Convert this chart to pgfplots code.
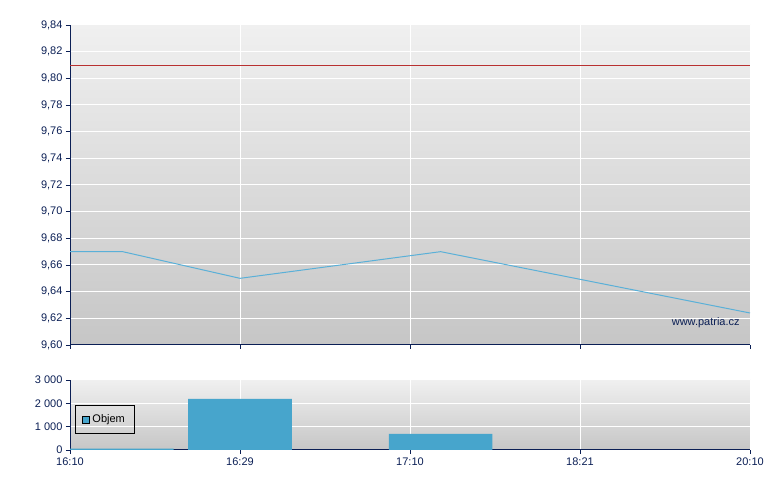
\documentclass[border=0pt]{standalone}
\usepackage{pgfplots}
\pgfplotsset{compat=1.18}
\usepackage{fontspec}
\setmainfont{Liberation Sans}
\definecolor{navy}{HTML}{0B1F55}
\definecolor{lineblue}{HTML}{5AB0D8}
\definecolor{barblue}{HTML}{47A5CC}
\definecolor{refred}{HTML}{B83030}
\definecolor{bgtop}{HTML}{F0F0F0}
\definecolor{bgbot}{HTML}{C6C6C6}
\pgfplotsset{
  common/.style={
    scale only axis,
    width=680pt,
    xmin=0, xmax=4,
    xtick={0,1,2,3,4},
    axis x line*=bottom,
    axis y line*=left,
    axis line style={navy, line width=1pt, -},
    tick style={navy, line width=0.8pt},
    tick align=outside,
    major tick length=4pt,
    grid=major,
    grid style={white, line width=1pt},
    axis background/.style={top color=bgtop, bottom color=bgbot},
    ticklabel style={font=\fontsize{11}{13}\selectfont, text=navy},
    /pgf/number format/assume math mode=true,
    axis on top=false,
  }
}
\begin{document}
\begin{tikzpicture}[x=1pt,y=1pt]
\path (0,0) rectangle (780,490);
\begin{axis}[common,
  at={(70pt,145pt)}, anchor=south west,
  height=320pt,
  ymin=9.60, ymax=9.84,
  ytick={9.60,9.62,...,9.845},
  xticklabels={},
  yticklabel style={/pgf/number format/.cd, fixed, fixed zerofill, precision=2, use comma},
]
\addplot[refred, line width=0.9pt] coordinates {(0,9.81) (4,9.81)};
\addplot[lineblue, line width=1pt] coordinates {(0,9.67) (0.31,9.67) (1,9.65) (2.18,9.67) (4,9.624)};
\node[anchor=east, text=navy, font=\fontsize{11}{13}\selectfont] at (rel axis cs:0.99,0.069) {www.patria.cz};
\end{axis}
\begin{axis}[common,
  at={(70pt,40pt)}, anchor=south west,
  height=70pt,
  ymin=0, ymax=3000,
  ytick={0,1000,2000,3000},
  xticklabels={16:10,16:29,17:10,18:21,20:10},
  yticklabel style={/pgf/number format/.cd, fixed, 1000 sep={\ }},
  legend style={at={(rel axis cs:0.007,0.643)}, anchor=north west, draw=black, line width=0.8pt, fill=none,
    font=\fontsize{11}{13}\selectfont, inner xsep=7pt, inner ysep=7.5pt, row sep=0pt,
    nodes={inner xsep=2.5pt}},
  legend cell align=left,
]
\addplot[ybar, bar width=0.61, fill=barblue, draw=none, forget plot] coordinates {(0.305,55) (1,2190) (2.18,690)};
\addlegendimage{legend image code/.code={\draw[fill=barblue, draw=black, line width=0.8pt] (0pt,-3.5pt) rectangle (7pt,3.5pt);}}
\addlegendentry{Objem}
\end{axis}
\end{tikzpicture}
\end{document}
